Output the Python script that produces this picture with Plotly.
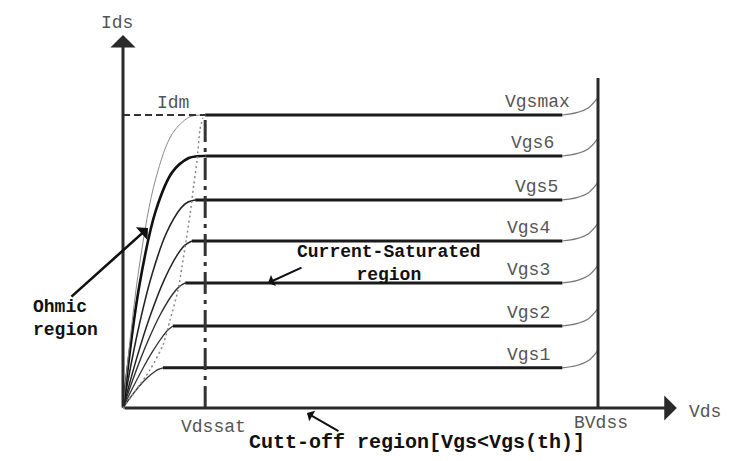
import plotly.graph_objects as go

# ---------------- data (schematic units: BVdss = 100 on Vds, Idm = 100 on Ids) -------------
vgs_labels = ["Vgs1", "Vgs2", "Vgs3", "Vgs4", "Vgs5", "Vgs6", "Vgsmax"]
sat_ids = [13.7, 28, 42.7, 57, 71, 86, 100]          # saturated current level of each curve
knee_vds = [8.4, 10.5, 13.1, 14.5, 15.2, 17.3, 17.3]  # Vds where each curve flattens

ohmic_vds = [
    [0, 1.68, 3.36, 5.04, 6.72, 7.56, 8.4],
    [0, 2.1, 4.2, 6.3, 8.4, 9.45, 10.5],
    [0, 2.62, 5.24, 7.86, 10.48, 11.79, 13.1],
    [0, 2.9, 5.8, 8.7, 11.6, 13.05, 14.5],
    [0, 3.04, 6.08, 9.12, 12.16, 13.68, 15.2],
    [0, 3.46, 6.92, 10.38, 13.84, 15.57, 17.3],
    [0, 3.46, 6.92, 10.38, 13.84, 15.57, 17.3],
]
ohmic_ids = [
    [0, 3.89, 7.33, 10.23, 12.48, 13.26, 13.7],
    [0, 7.06, 13.58, 19.49, 24.56, 26.6, 28],
    [0, 12.13, 22.84, 31.9, 38.9, 41.33, 42.7],
    [0, 17.1, 31.8, 43.83, 52.67, 55.58, 57],
    [0, 25.56, 45.44, 59.64, 68.16, 70.29, 71],
    [0, 41.97, 67.42, 80.5, 85.31, 85.91, 86],
    [0, 48.8, 78.4, 93.6, 99.2, 99.9, 100],
]

# breakdown bend near BVdss (shared shape)
bd_vds = [92.5, 95.5, 98.0, 100.0]
bd_rise = [0, 0.8, 2.5, 6.0]

# dotted saturation-boundary locus
locus_vds = [0, 5.68, 8.42, 9.9, 11.6, 12.4, 13.3, 14.1, 14.9, 15.6, 16.2, 16.8]
locus_ids = [0, 13, 21.5, 30, 40.3, 48.1, 57.3, 65.9, 76.1, 84.6, 94.9, 99]

vdssat = 17.3
idm = 100
bvdss = 100
bv_top = 112.6
yaxis_top = 127.3
xaxis_end = 116.6

# ---------------- geometry ----------------
W, H = 730, 461
OX, OY = 123, 408      # origin pixel
SX, SY = 4.75, 2.93    # px per unit

def P(px, py):
    return px / W, 1 - py / H

fig = go.Figure()

# ohmic region curves
ohm_width = [1.3, 1.3, 1.4, 1.5, 1.6, 2.6, 1.0]
ohm_color = ["#333", "#333", "#333", "#222", "#222", "#111", "#8a8a8a"]
for i in range(len(vgs_labels)):
    fig.add_trace(go.Scatter(x=ohmic_vds[i], y=ohmic_ids[i], mode="lines",
                             line=dict(color=ohm_color[i], width=ohm_width[i],
                                       shape="spline", smoothing=1.0),
                             hoverinfo="skip", showlegend=False))

# dotted locus
fig.add_trace(go.Scatter(x=locus_vds, y=locus_ids, mode="lines",
                         line=dict(color="#888", width=1.5, dash="2px,3px",
                                   shape="spline", smoothing=0.6),
                         hoverinfo="skip", showlegend=False))

# saturation flats + breakdown bends
for i in range(len(vgs_labels)):
    L = sat_ids[i]
    fig.add_trace(go.Scatter(x=[knee_vds[i], bd_vds[0]], y=[L, L], mode="lines",
                             line=dict(color="#1a1a1a", width=3),
                             hoverinfo="skip", showlegend=False))
    fig.add_trace(go.Scatter(x=bd_vds, y=[L + r for r in bd_rise], mode="lines",
                             line=dict(color="#777", width=1.2, shape="spline"),
                             hoverinfo="skip", showlegend=False))

# Idm dashed horizontal and Vdssat dash-dot vertical
fig.add_trace(go.Scatter(x=[0, vdssat], y=[idm, idm], mode="lines",
                         line=dict(color="#333", width=2, dash="7px,4px"),
                         hoverinfo="skip", showlegend=False))
fig.add_trace(go.Scatter(x=[vdssat, vdssat], y=[0, idm], mode="lines",
                         line=dict(color="#333", width=3, dash="22px,6px,4px,6px"),
                         hoverinfo="skip", showlegend=False))

# BVdss vertical
fig.add_trace(go.Scatter(x=[bvdss, bvdss], y=[0, bv_top], mode="lines",
                         line=dict(color="#2a2a2a", width=3),
                         hoverinfo="skip", showlegend=False))

ann = []
# axes with arrow heads
ann.append(dict(x=0, y=yaxis_top, ax=0, ay=0, xref="x", yref="y", axref="x", ayref="y",
                text="", showarrow=True, arrowhead=1, arrowwidth=3, arrowsize=1.4,
                arrowcolor="#2a2a2a"))
ann.append(dict(x=xaxis_end, y=0, ax=0, ay=0, xref="x", yref="y", axref="x", ayref="y",
                text="", showarrow=True, arrowhead=1, arrowwidth=3, arrowsize=1.4,
                arrowcolor="#2a2a2a"))

MONO = "Liberation Mono, Courier New, monospace"
gray_font = dict(family=MONO, size=18, color="#555")
bold_font = dict(family=MONO, size=18, color="#111", weight="bold")
bold_big = dict(family=MONO, size=20, color="#111", weight="bold")

# curve labels
label_right = [90.3, 90.3, 90.3, 90.3, 92.0, 91.2, 94.5]
for i, lab in enumerate(vgs_labels):
    ann.append(dict(x=label_right[i], y=sat_ids[i], xref="x", yref="y", text=lab,
                    showarrow=False, xanchor="right", yanchor="middle", yshift=13,
                    font=gray_font))

def text(px, py, s, font, xanchor="center", align="center"):
    x, y = P(px, py)
    ann.append(dict(x=x, y=y, xref="paper", yref="paper", text=s, showarrow=False,
                    xanchor=xanchor, yanchor="middle", align=align, font=font))

text(117, 23, "Ids", gray_font)
text(173, 103, "Idm", gray_font)
text(705, 412, "Vds", gray_font)
text(601, 423, "BVdss", gray_font)
text(213, 427, "Vdssat", gray_font)
text(31, 318, "Ohmic<br>region", bold_font, "left", "left")
text(389, 263, "Current-Saturated<br>region", bold_font)
text(247, 442, "Cutt-off region[Vgs&lt;Vgs(th)]", bold_big, "left")

# pointer arrows
def pointer(tip, start, w=2.5, size=1.0):
    x, y = P(*tip)
    ann.append(dict(x=x, y=y, xref="paper", yref="paper", text="", showarrow=True,
                    ax=start[0] - tip[0], ay=start[1] - tip[1], axref="pixel", ayref="pixel",
                    arrowhead=1, arrowwidth=w, arrowsize=size, arrowcolor="#111"))

pointer((148, 228), (70, 298), 2.6, 1.1)
pointer((268, 283), (303, 267), 2.0, 1.0)
pointer((307, 413), (340, 432), 2.0, 1.0)

fig.update_layout(
    width=W, height=H, autosize=False,
    margin=dict(l=0, r=0, t=0, b=0),
    paper_bgcolor="white", plot_bgcolor="white",
    xaxis=dict(range=[-OX / SX, (W - OX) / SX], visible=False, fixedrange=True),
    yaxis=dict(range=[-(H - OY) / SY, OY / SY], visible=False, fixedrange=True),
    annotations=ann, showlegend=False,
)

fig.write_html("out.html")
